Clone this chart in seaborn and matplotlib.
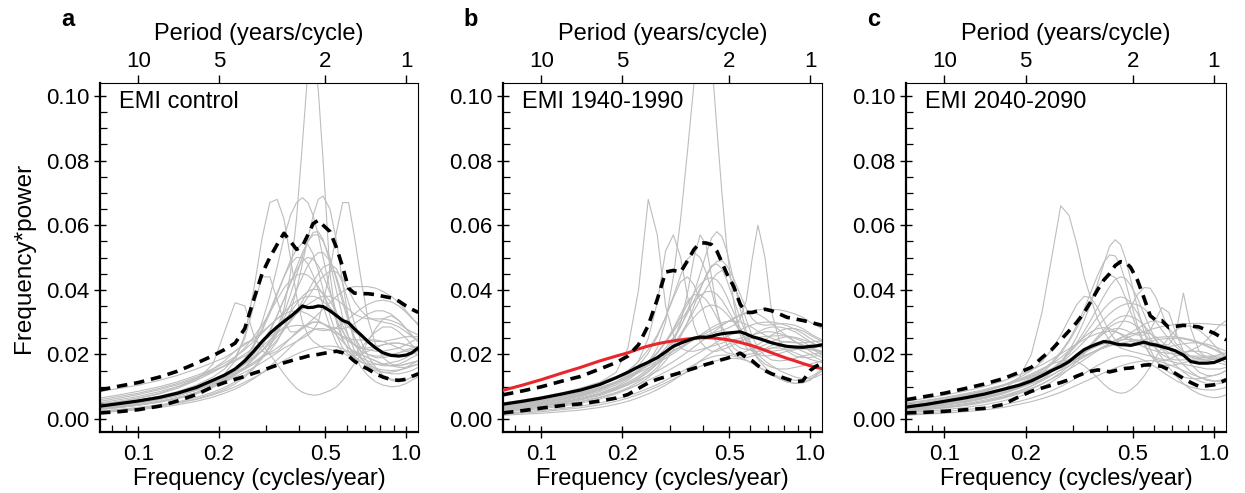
import numpy as np
import pandas as pd
import matplotlib
matplotlib.use("Agg")
import matplotlib.pyplot as plt
from matplotlib.ticker import FixedLocator, FixedFormatter, NullLocator, NullFormatter, MultipleLocator
import seaborn as sns

sns.set_theme(style="ticks", rc={"axes.edgecolor": "black", "text.color": "black",
                                 "axes.labelcolor": "black", "xtick.color": "black",
                                 "ytick.color": "black"})
plt.rcParams["font.family"] = ["Liberation Sans", "DejaVu Sans"]

# frequency grid (cycles/year) the curves were read at
freq = [0.072, 0.085, 0.10, 0.12, 0.14, 0.165,
        0.19, 0.21, 0.23, 0.25, 0.27, 0.29,
        0.31, 0.33, 0.35, 0.37, 0.39, 0.41,
        0.43, 0.45, 0.47, 0.49, 0.52, 0.55,
        0.58, 0.61, 0.64, 0.68, 0.72, 0.77,
        0.82, 0.88, 0.94, 1.00, 1.05, 1.11]

# all values below: frequency*power in units of 1e-3
# ---- panel a: EMI control ----
mean_a = [4.0, 4.8, 5.6, 6.7, 8.0, 9.8, 12.0, 13.6, 15.5, 18.0, 21.0, 24.0,
          26.5, 28.5, 30.2, 31.7, 33.3, 35.0, 34.5, 34.6, 35.0, 34.8, 33.5, 32.0,
          30.5, 29.8, 28.0, 26.0, 24.0, 22.0, 20.5, 19.7, 19.5, 19.8, 20.5, 22.0]
upper_a = [9.0, 10.2, 11.3, 13.0, 14.8, 17.3, 19.6, 21.5, 23.5, 28.0, 37.0, 45.0,
           50.0, 54.0, 57.5, 55.0, 52.5, 53.5, 57.0, 60.5, 61.5, 60.0, 58.0, 53.0,
           47.0, 40.5, 39.0, 38.8, 38.8, 38.5, 38.0, 37.5, 36.5, 35.0, 34.0, 33.0]
lower_a = [1.9, 2.3, 2.9, 4.0, 5.6, 7.6, 10.0, 11.3, 12.3, 13.2, 14.2, 15.0,
           15.9, 16.7, 17.4, 18.0, 18.6, 19.0, 19.5, 19.8, 20.0, 20.3, 20.7, 21.0,
           20.5, 19.5, 18.0, 16.5, 15.5, 14.0, 13.0, 12.2, 12.0, 12.3, 13.2, 14.0]
members_a = [
    [4, 4.8, 5.6, 6.8, 8, 9.8, 12, 13.5, 15, 17, 19, 21, 24, 28, 34, 45, 62, 85,
     108, 115, 102, 80, 45, 30, 24, 22, 21, 20, 19, 18, 17, 16.5, 16.5, 17, 17.5, 18],
    [3.5, 4.2, 5, 6, 7.2, 9, 11.5, 14, 18, 26, 40, 56, 67, 68, 62, 50, 38, 30,
     26, 24, 23, 22, 21.5, 21, 21, 21, 20.5, 20, 19, 18, 17, 16.5, 16, 16, 16.5, 17],
    [3, 3.6, 4.3, 5.3, 6.5, 8, 10, 12, 14.5, 18, 23, 30, 38, 47, 56, 63, 67, 68.5,
     67, 63, 57, 50, 40, 31, 25, 21, 19, 17.5, 17, 17, 17, 17.5, 18, 19, 20, 21],
    [3.8, 4.5, 5.3, 6.4, 7.6, 9.3, 11, 12.5, 14, 15.5, 17, 19, 21, 24, 28, 33, 40, 48,
     56, 63, 68, 69, 65, 55, 42, 31, 24, 19, 16.5, 15, 14.5, 14.5, 15, 16, 17, 18],
    [3.2, 3.8, 4.5, 5.5, 6.6, 8.2, 10, 11.5, 13, 14.5, 16, 17.5, 19, 20.5, 22, 23, 24, 25,
     26, 27.5, 30, 36, 46, 58, 67, 67, 57, 43, 31, 23, 19, 17, 16.5, 17, 17.5, 18],
    [4.5, 5.4, 6.4, 7.8, 9.5, 12, 17, 27, 36, 35, 26, 21, 20, 21, 23, 25, 27, 28.5,
     29.5, 30, 30, 29.5, 28.5, 27, 25.5, 24, 23, 22, 21.5, 21, 21, 21.5, 22, 23, 24, 25],
    [4, 4.8, 5.7, 7, 8.5, 10.5, 13, 15.5, 19, 25, 35, 44, 44, 37, 30, 27, 27, 28,
     29, 30, 30, 29.5, 28, 26, 24, 22, 20.5, 19, 18, 17, 16.5, 16.5, 17, 18, 19, 20],
    [4.5, 5.5, 6.5, 8, 10, 12.5, 15.5, 18, 21, 23.5, 24.5, 23, 20, 17, 14, 11.5, 9.5, 8.3,
     7.7, 7.4, 7.5, 8, 8.8, 10, 12, 14.5, 17, 20, 24, 28, 31, 32, 30.5, 28, 26, 24],
    [4, 4.7, 5.5, 6.6, 7.8, 9.5, 11.5, 13, 14.5, 16, 17.5, 19, 20.5, 22, 23.5, 25, 26.5, 28,
     29.5, 31, 32.5, 34, 36, 38, 39.5, 40.5, 41, 41, 41, 40.5, 39.5, 38, 36, 33.5, 31.5, 29],
    [3, 3.6, 4.3, 5.2, 6.3, 7.8, 9.8, 11.5, 13.5, 16, 19, 22.5, 27, 32, 37, 42, 46, 49,
     50, 49.5, 47.5, 44.5, 39, 33, 27.5, 23, 19.5, 16, 13.5, 11.5, 10.5, 10, 10.2, 11, 12, 13],
    [2.5, 3, 3.6, 4.4, 5.3, 6.7, 8.3, 9.8, 11.5, 13.5, 16, 19, 22.5, 26.5, 31, 35.5, 40, 44,
     47.5, 50, 51.5, 51.5, 49, 44, 37.5, 31, 25.5, 20.5, 17.5, 15.5, 14.5, 14, 14, 14.5, 15, 16],
    [5, 6, 7, 8.5, 10, 12, 14.5, 16.5, 19, 22, 25.5, 29, 33, 37, 40.5, 43, 44.5, 45,
     44.5, 43, 41, 38.5, 34.5, 30.5, 27, 24.5, 23, 22, 22, 22.5, 23, 23.5, 23.5, 23, 22.5, 22],
    [6, 7, 8, 9.5, 11, 13, 15, 16.5, 18, 19.5, 21, 22.5, 24.5, 26.5, 28.5, 30.5, 32.5, 34,
     35.5, 36.5, 37.5, 38, 38, 37, 35.5, 34, 32.5, 31.5, 31, 31, 31, 30.5, 29.5, 28, 27, 26],
    [2, 2.4, 2.9, 3.6, 4.4, 5.5, 6.8, 8, 9.3, 10.8, 12.5, 14.3, 16.3, 18.3, 20.3, 22.2, 24, 25.5,
     26.8, 27.6, 28, 28, 27.5, 26.5, 25.5, 25, 24.5, 24.5, 24.5, 24.5, 24, 23, 22, 21, 20.5, 20],
    [3.5, 4.2, 5, 6.1, 7.3, 9, 11, 12.7, 14.7, 17, 20, 23.5, 27.5, 32, 37, 42, 47, 51.5,
     55, 57, 57, 55, 50, 43, 36, 30, 25.5, 22, 20, 19, 19, 19.5, 20.5, 21.5, 22, 22.5],
    [3, 3.6, 4.3, 5.3, 6.5, 8.2, 10.5, 12.5, 15, 18.5, 23, 28, 33.5, 39, 44, 48, 50, 50,
     48, 44.5, 40, 35, 28.5, 23.5, 20.5, 19.5, 20, 22, 24.5, 27, 28.5, 28.5, 27, 25, 23, 21],
    [6.5, 7.5, 8.6, 10, 11.5, 13.5, 15.5, 17.3, 19.3, 21.5, 24, 26.5, 29, 31, 32.5, 33.3, 33.5, 33.2,
     32.5, 31.5, 30.5, 29.5, 28.5, 28, 28, 28.5, 29.5, 31, 32.5, 33.5, 33.5, 32.5, 30.5, 28, 26, 24],
    [3.5, 4.2, 5, 6.1, 7.3, 8.9, 10.7, 12.2, 13.8, 15.5, 17.5, 19.5, 22, 24.5, 27.5, 30.5, 33.5, 36.5,
     39.5, 42.5, 45, 47, 48, 46.5, 42, 36, 30, 24, 19.5, 16, 13.5, 12, 11.5, 12, 13, 14.5],
    [8.5, 9.5, 10.5, 12, 13.5, 15.5, 17.5, 19, 21, 23, 25, 27, 29, 31, 33, 35, 36.5, 37.5,
     38, 38, 37.5, 36.5, 34.5, 32.5, 30.5, 28.5, 27, 25.5, 24.5, 24, 24, 24.5, 25, 25.5, 25.5, 25.5],
    [3.2, 3.8, 4.5, 5.5, 6.6, 8.2, 10.2, 11.9, 13.8, 16, 18.5, 21.2, 24, 27, 30, 33, 35.7, 38,
     39.5, 40.2, 40, 39, 36.5, 33, 29, 25.5, 23, 21, 20, 19.5, 19.5, 20, 20.5, 21, 21.5, 22],
    [3.7, 4.4, 5.2, 6.3, 7.5, 9.2, 11.3, 13.2, 15.6, 18.7, 22.6, 27.3, 32.7, 38.5, 44, 49, 52.5, 54.5,
     54, 51, 46, 40, 32, 26, 22, 20, 19.5, 20, 21, 22, 23, 23.5, 23.5, 23, 22.5, 22],
    [2.2, 2.7, 3.2, 4, 4.9, 6.1, 7.5, 8.7, 10, 11.4, 12.8, 14.2, 15.6, 16.9, 18.1, 19.2, 20.1, 20.9,
     21.5, 22, 22.3, 22.5, 22.6, 22.4, 21.8, 20.8, 19.5, 17.8, 16.2, 14.5, 13.3, 12.4, 12, 12.2, 12.8, 13.5],
    [4.2, 5, 5.9, 7.1, 8.4, 10.2, 12.2, 13.8, 15.5, 17.3, 19.2, 21.2, 23.3, 25.5, 27.8, 30.2, 32.7, 35.2,
     37.7, 40.2, 42.4, 44.2, 45.8, 45.5, 43.5, 40, 36.5, 33.5, 31.5, 30.5, 30, 29.5, 28.5, 27, 25.5, 24],
    [5.5, 6.5, 7.6, 9.1, 10.6, 12.6, 14.7, 16.4, 18.2, 20.1, 22, 23.8, 25.5, 26.9, 28, 28.7, 29, 28.9,
     28.5, 28, 27.6, 27.4, 27.6, 28.4, 29.6, 31, 32.5, 34.2, 35.5, 36.5, 36.8, 36.3, 35, 33, 31.2, 29.5],
    [2.3, 2.8, 3.3, 4.1, 5, 6.2, 7.8, 9.2, 10.9, 13, 15.6, 18.8, 22.7, 27.3, 32.6, 38.5, 44.6, 50.3,
     55, 57.8, 58, 55.6, 48.5, 39.5, 31.5, 25.5, 21.5, 18.5, 16.8, 15.7, 15.2, 15, 15.2, 15.7, 16.3, 17],
]

# ---- panel b: EMI 1940-1990 ----
mean_b = [4.6, 5.5, 6.5, 7.8, 9.0, 10.7, 12.8, 14.5, 16.2, 17.6, 19.0, 20.8,
          22.5, 23.5, 24.3, 25.0, 25.4, 25.3, 25.6, 26.1, 26.4, 26.6, 26.8, 27.0,
          26.3, 25.5, 25.0, 24.3, 23.6, 23.0, 22.5, 22.3, 22.2, 22.5, 22.6, 23.0]
upper_b = [7.5, 8.7, 10.0, 11.8, 13.2, 15.5, 17.5, 19.5, 23.0, 29.0, 37.0, 45.5,
           46.0, 45.5, 49.0, 52.5, 54.5, 54.5, 54.0, 52.0, 48.5, 45.0, 41.0, 35.5,
           33.0, 33.0, 33.5, 34.0, 33.5, 32.5, 31.5, 31.0, 30.5, 30.0, 29.5, 29.0]
lower_b = [1.9, 2.6, 3.4, 4.2, 4.7, 5.6, 6.5, 7.6, 9.5, 11.2, 12.3, 13.1,
           13.7, 14.4, 15.1, 15.7, 16.3, 16.9, 17.4, 17.9, 18.4, 18.8, 19.5, 20.4,
           19.0, 18.0, 16.5, 15.0, 14.0, 13.2, 12.4, 11.6, 11.8, 15.0, 16.3, 17.3]
observed_b = [8.9, 10.5, 12.2, 14.3, 16.0, 18.0, 19.5, 20.5, 21.7, 22.6, 23.3, 23.8,
              24.2, 24.5, 24.8, 25.0, 25.1, 25.2, 25.1, 25.0, 24.8, 24.6, 24.2, 23.7,
              23.2, 22.7, 22.1, 21.3, 20.5, 19.6, 18.8, 18.0, 17.2, 16.5, 16.0, 15.6]
members_b = [
    [3, 3.6, 4.3, 5.3, 6.4, 8, 10, 12, 14.5, 17.5, 22, 30, 44, 62, 83, 104, 122, 128,
     112, 90, 70, 53, 36, 26, 22, 21, 21, 21.5, 22, 22, 21.5, 20.5, 19.5, 18.5, 18, 17.5],
    [4.5, 5.3, 6.2, 7.5, 9, 11.3, 14.5, 22, 40, 68, 57, 35, 26, 22, 21, 21, 21.5, 22,
     22.5, 23, 23.5, 24, 24.5, 25, 25.5, 26, 26.5, 27, 27, 26.5, 25.5, 24, 22.5, 21, 20, 19],
    [3.5, 4.2, 5, 6.1, 7.3, 9, 11.5, 14, 18, 25, 36, 52, 57, 50, 38, 29, 24, 22,
     21, 21, 21.5, 22, 23, 24, 25, 26, 27, 28, 28.5, 28.5, 28, 27, 25.5, 24, 23, 22],
    [2.5, 3, 3.6, 4.4, 5.3, 6.6, 8.2, 9.7, 11.5, 13.5, 16, 19.5, 24, 30, 39, 50, 57, 54,
     44, 34, 27, 23, 20, 19, 19, 19.5, 20, 21, 22, 22.5, 22.5, 22, 21, 20, 19, 18],
    [3, 3.6, 4.3, 5.2, 6.3, 7.8, 9.7, 11.4, 13.3, 15.5, 18, 21, 24.5, 28.5, 33.5, 39, 45, 51,
     56, 58, 56.5, 52, 43, 34, 27, 22, 19, 17, 16, 15.5, 15.5, 16, 16.5, 17, 17.5, 18],
    [4, 4.8, 5.6, 6.8, 8, 9.7, 11.6, 13.2, 14.8, 16.5, 18, 19.5, 21, 22.3, 23.5, 24.5, 25.3, 26,
     26.5, 27, 27.5, 28, 29, 31, 37, 50, 60, 50, 33, 24, 21, 19.5, 19, 19, 19.5, 20],
    [2.2, 2.7, 3.2, 4, 4.9, 6.2, 7.8, 9.2, 10.8, 12.8, 15.2, 18, 21.5, 25.5, 30, 35, 40, 44.5,
     47.5, 48, 46.5, 43, 37, 31, 26, 22.5, 20, 18, 16.5, 15, 14, 13, 12.5, 12.5, 13, 14],
    [3.8, 4.5, 5.3, 6.4, 7.6, 9.3, 11.3, 13, 15, 17.5, 20.5, 24, 28, 32.5, 36.5, 38.5, 38.5, 37,
     34.5, 31.5, 28.5, 26, 23.5, 22, 21.5, 21.5, 22, 23, 24, 25, 25.5, 25, 24, 22.5, 21.5, 20.5],
    [5, 5.9, 6.9, 8.2, 9.6, 11.4, 13.2, 14.6, 16, 17.4, 18.7, 20, 21.2, 22.4, 23.5, 24.6, 25.6, 26.6,
     27.5, 28.4, 29.2, 30, 31, 32, 32.8, 33.4, 33.8, 34, 34, 33.8, 33.3, 32.5, 31.5, 30, 29, 28],
    [2.8, 3.3, 4, 4.9, 5.9, 7.3, 9, 10.6, 12.4, 14.5, 17, 19.8, 22.8, 26, 29, 31.5, 33.5, 34.8,
     35.3, 35, 34, 32.5, 30, 27, 24, 21, 18.5, 16, 14, 12.5, 11.5, 11, 11.2, 12, 13.5, 15],
    [1.2, 1.5, 1.8, 2.3, 2.8, 3.6, 4.6, 5.5, 6.6, 7.8, 9.1, 10.5, 12, 13.5, 15, 16.5, 18, 19.3,
     20.5, 21.5, 22.3, 23, 23.8, 24.3, 24.7, 25, 25.3, 25.5, 25.7, 25.8, 25.7, 25.3, 24.6, 23.8, 23, 22],
    [4.2, 5, 5.8, 7, 8.2, 9.8, 11.5, 12.9, 14.3, 15.8, 17.3, 18.8, 20.3, 21.8, 23.3, 24.7, 26, 27.2,
     28.3, 29.2, 29.8, 30.2, 30.3, 30, 29.3, 28.3, 27.2, 26, 25, 24.2, 23.8, 23.6, 23.6, 23.8, 24, 24.2],
    [3.3, 3.9, 4.6, 5.6, 6.8, 8.5, 10.6, 12.5, 14.7, 17.3, 20.3, 23.7, 27.5, 31.5, 35.5, 39, 41.7, 43.3,
     43.8, 43, 41, 38, 33, 28, 24, 21.5, 20, 19.5, 19.7, 20.3, 21, 21.5, 21.8, 21.8, 21.5, 21],
    [4, 4.8, 5.7, 7, 8.4, 10.4, 12.8, 15, 17.8, 21.5, 26, 31.5, 37.5, 42.5, 44, 41.5, 36.5, 31,
     26.5, 23.5, 21.5, 20.5, 20, 20.3, 21, 22, 23, 24.5, 26, 27.3, 28, 28, 27.3, 26, 25, 24],
    [1.8, 2.2, 2.7, 3.3, 4, 5, 6.2, 7.2, 8.3, 9.5, 10.7, 12, 13.3, 14.5, 15.7, 16.8, 17.8, 18.6,
     19.2, 19.6, 19.8, 19.8, 19.5, 19, 18.2, 17.2, 16.2, 15, 14, 13, 12.3, 12, 12.2, 13, 14, 15.5],
    [3.6, 4.3, 5.1, 6.2, 7.4, 9.1, 11.1, 12.8, 14.7, 16.8, 19.2, 22, 25.2, 28.8, 32.7, 36.7, 40.5, 44,
     47, 48.8, 49, 47.5, 43.5, 38.5, 34, 31, 29.5, 29, 29.2, 29.5, 29.5, 29, 28, 26.5, 25.5, 24.5],
    [3.9, 4.6, 5.4, 6.5, 7.7, 9.4, 11.4, 13.2, 15.3, 17.8, 20.6, 23.7, 27, 30.4, 33.6, 36.3, 38.3, 39.4,
     39.5, 38.6, 36.8, 34.4, 30.7, 27.3, 24.6, 22.7, 21.6, 21, 21, 21.3, 21.6, 21.8, 21.8, 21.5, 21.2, 20.8],
    [2.6, 3.1, 3.7, 4.6, 5.5, 6.8, 8.2, 9.4, 10.7, 12, 13.3, 14.6, 15.9, 17.2, 18.4, 19.6, 20.7, 21.8,
     22.8, 23.8, 24.7, 25.5, 26.6, 27.6, 28.5, 29.2, 29.7, 30, 30, 29.6, 28.9, 27.8, 26.5, 25, 24, 23],
    [3.4, 4, 4.8, 5.9, 7.1, 8.9, 11.2, 13.5, 16.5, 20.4, 25.5, 31.5, 38, 44.5, 49.5, 51.5, 50, 45.5,
     39.5, 33.5, 28.5, 25, 22, 20.5, 20, 20.2, 20.8, 21.8, 22.8, 23.6, 24, 23.8, 23, 22, 21, 20],
    [1.5, 1.9, 2.3, 2.9, 3.5, 4.4, 5.5, 6.5, 7.6, 8.8, 10, 11.2, 12.4, 13.5, 14.6, 15.5, 16.3, 17,
     17.6, 18.1, 18.5, 18.7, 18.8, 18.6, 18.1, 17.3, 16.3, 15, 13.7, 12.4, 11.5, 11.1, 11.3, 12.2, 13.5, 15],
    [3.1, 3.7, 4.4, 5.3, 6.3, 7.7, 9.3, 10.6, 12, 13.4, 14.8, 16.3, 17.8, 19.3, 20.8, 22.3, 23.7, 25.1,
     26.4, 27.7, 28.9, 30, 31.3, 32.3, 32.9, 33, 32.5, 31.2, 29.5, 27.5, 25.7, 24, 22.7, 21.8, 21.3, 21],
    [2.9, 3.5, 4.1, 5, 6.1, 7.6, 9.4, 11, 12.8, 14.9, 17.3, 20, 23, 26.3, 29.8, 33.5, 37, 40.2,
     43, 45, 46, 45.5, 42, 36.5, 30.5, 25.5, 22, 19.5, 18.3, 18, 18.2, 18.8, 19.5, 20, 20.3, 20.5],
]

# ---- panel c: EMI 2040-2090 ----
mean_c = [3.7, 4.5, 5.5, 6.6, 7.7, 9.2, 10.5, 11.8, 13.4, 15.0, 16.3, 17.8,
          19.8, 21.5, 22.5, 23.3, 24.0, 23.8, 23.3, 23.0, 23.0, 22.8, 23.3, 23.8,
          23.2, 22.9, 22.4, 21.8, 21.1, 19.8, 17.8, 17.3, 17.3, 17.5, 18.2, 19.0]
upper_c = [6.0, 7.0, 8.0, 9.5, 10.8, 12.5, 14.5, 16.0, 19.0, 21.5, 24.5, 27.3,
           30.0, 33.0, 36.5, 40.0, 43.0, 45.0, 47.5, 48.7, 48.5, 47.0, 43.0, 37.5,
           32.0, 30.5, 30.5, 28.3, 28.7, 29.0, 28.8, 28.5, 27.5, 26.6, 25.6, 24.5]
lower_c = [1.9, 2.1, 2.4, 2.9, 3.3, 4.5, 7.0, 8.6, 9.6, 10.5, 11.3, 12.2,
           13.3, 14.2, 14.8, 15.2, 15.0, 14.6, 15.0, 15.4, 15.7, 15.8, 16.2, 16.7,
           16.8, 16.6, 16.3, 15.3, 14.1, 12.6, 11.3, 10.1, 10.3, 10.6, 11.2, 12.2]
members_c = [
    [3, 3.6, 4.3, 5.4, 6.8, 9, 13, 20, 33, 50, 66, 63, 54, 44, 37, 31, 27, 24.5,
     23, 22, 21.5, 21, 20.5, 20, 19.5, 19, 18.5, 18, 17.5, 17, 16.5, 16, 15.5, 15.5, 15.5, 16],
    [2.5, 3, 3.6, 4.4, 5.4, 6.8, 8.6, 10.2, 12.2, 14.6, 17.6, 21.2, 25.5, 30.5, 36, 42, 48, 53.5,
     55.5, 54, 49.5, 43.5, 34.5, 27, 21.5, 18, 16, 14.5, 13.5, 13, 12.5, 12.5, 13, 13.5, 14, 15],
    [3.5, 4.2, 5, 6.1, 7.3, 9, 11, 12.8, 15, 17.6, 20.8, 24.5, 29, 34, 39.5, 44.5, 48.5, 50.8,
     50.5, 47.5, 42.5, 36.5, 29, 23.5, 20, 18.5, 18, 18.5, 19.5, 20.5, 21, 21, 20.5, 19.5, 18.5, 17.5],
    [3.2, 3.8, 4.5, 5.5, 6.6, 8.1, 9.9, 11.4, 13, 14.7, 16.3, 17.8, 19.2, 20.5, 21.7, 22.8, 24, 25.3,
     27, 29, 31.5, 34.5, 38.5, 40.7, 40.5, 37.5, 33, 27.5, 23.5, 21, 19.5, 19, 19, 19.5, 20, 20.5],
    [3.8, 4.5, 5.3, 6.4, 7.6, 9.2, 11, 12.5, 14, 15.5, 17, 18.4, 19.7, 20.8, 21.8, 22.6, 23.3, 23.8,
     24.2, 24.5, 24.6, 24.6, 24.5, 24.2, 23.8, 23.4, 23, 23, 26, 39, 28, 21, 19, 18.5, 18.5, 19],
    [2.8, 3.3, 3.9, 4.8, 5.8, 7.2, 8.8, 10.2, 11.8, 13.5, 15.3, 17.2, 19.2, 21.2, 23.2, 25, 26.5, 27.5,
     28, 28, 27.5, 26.8, 26, 26, 27.5, 31, 34.5, 33, 27, 21, 17, 14.5, 13.5, 13.5, 14, 15],
    [4, 4.8, 5.7, 7, 8.4, 10.4, 12.8, 15, 17.8, 21.5, 26, 31, 35.5, 38, 37.5, 34.5, 30.5, 27,
     24.5, 23, 22.5, 22.5, 23, 23.5, 24, 24.5, 24.8, 25, 25, 24.8, 24.3, 23.5, 22.5, 21.5, 20.5, 19.5],
    [4.2, 5, 5.9, 7.1, 8.5, 10.3, 12.3, 14, 15.6, 17, 18, 18.3, 17.8, 16.5, 14.7, 12.7, 10.8, 9.3,
     8.4, 8, 8.2, 9, 10.8, 13.3, 16.2, 19.3, 22.2, 25.3, 27.5, 28.8, 28.8, 27.5, 25.5, 23, 21, 19],
    [5, 5.8, 6.7, 7.9, 9.1, 10.6, 12.1, 13.3, 14.5, 15.6, 16.7, 17.7, 18.7, 19.6, 20.5, 21.3, 22.1, 22.9,
     23.6, 24.3, 25, 25.6, 26.4, 27.1, 27.7, 28.2, 28.6, 29, 29.3, 29.5, 29.6, 29.6, 29.5, 29.3, 29.2, 29],
    [2, 2.4, 2.9, 3.6, 4.4, 5.6, 7, 8.3, 9.8, 11.5, 13.4, 15.5, 17.8, 20.2, 22.6, 24.9, 26.9, 28.5,
     29.6, 30.2, 30.3, 29.9, 28.6, 26.6, 24.2, 21.6, 19, 16, 13.4, 11, 9.2, 7.8, 7, 6.6, 6.8, 7.5],
    [3, 3.6, 4.3, 5.2, 6.3, 7.8, 9.6, 11.2, 13, 15.2, 17.7, 20.5, 23.7, 27.2, 30.8, 34.5, 38, 41,
     43.2, 44, 43.5, 41.5, 37.5, 32.5, 28, 24.5, 22, 20.5, 19.8, 19.5, 19.5, 19.5, 19.5, 19.5, 19.5, 19.5],
    [1.2, 1.5, 1.8, 2.3, 2.8, 3.6, 4.6, 5.4, 6.3, 7.3, 8.3, 9.4, 10.5, 11.5, 12.5, 13.4, 14.3, 15.1,
     15.8, 16.4, 16.9, 17.3, 17.7, 18, 18.1, 18, 17.6, 16.9, 16, 15, 14, 13, 12.3, 11.8, 11.5, 11.5],
    [4.5, 5.3, 6.2, 7.4, 8.7, 10.4, 12.2, 13.6, 15.2, 17, 19, 21.2, 23.4, 25.4, 27, 28, 28.3, 28,
     27.2, 26.2, 25.2, 24.3, 23.2, 22.3, 21.6, 21, 20.6, 20.3, 20.3, 20.6, 21.3, 22.5, 24.5, 27, 29, 30.5],
    [3.6, 4.3, 5, 6, 7.1, 8.6, 10.4, 11.9, 13.6, 15.4, 17.4, 19.5, 21.7, 24, 26.4, 28.7, 30.8, 32.6,
     34, 35, 35.6, 35.8, 35.4, 34.2, 32.3, 30, 27.6, 24.8, 22.5, 20.5, 19.2, 18.5, 18.3, 18.5, 19, 19.5],
    [5.5, 6.4, 7.4, 8.7, 10, 11.8, 13.7, 15.2, 16.8, 18.5, 20.2, 21.8, 23.3, 24.6, 25.7, 26.5, 27, 27.2,
     27, 26.5, 25.8, 25, 24, 23.2, 22.6, 22.3, 22.2, 22.4, 22.8, 23.3, 23.6, 23.6, 23.2, 22.5, 21.8, 21],
    [2.4, 2.9, 3.4, 4.2, 5.1, 6.4, 7.9, 9.3, 10.8, 12.5, 14.4, 16.4, 18.6, 20.9, 23.2, 25.5, 27.6, 29.4,
     30.8, 31.7, 32, 31.8, 30.8, 29, 26.7, 24.2, 21.7, 19, 16.7, 14.6, 13, 11.8, 11, 10.8, 11, 11.5],
    [3.3, 3.9, 4.6, 5.6, 6.7, 8.2, 10, 11.6, 13.4, 15.5, 17.8, 20.3, 23, 25.9, 28.8, 31.6, 34.1, 36,
     37.3, 37.8, 37.4, 36, 32.8, 28.8, 25, 22, 20, 18.8, 18.3, 18.3, 18.5, 18.8, 19, 19, 18.8, 18.5],
    [2.6, 3.1, 3.7, 4.5, 5.4, 6.7, 8.2, 9.5, 10.9, 12.4, 13.9, 15.4, 16.9, 18.4, 19.8, 21.1, 22.3, 23.4,
     24.4, 25.2, 25.8, 26.3, 26.7, 26.8, 26.4, 25.4, 24, 21.8, 19.4, 16.8, 14.7, 13, 12, 11.7, 12, 12.6],
    [3.1, 3.7, 4.4, 5.4, 6.5, 8.1, 10.1, 12, 14.3, 17, 20.3, 24, 28.2, 32.6, 37, 40.8, 43.5, 44.6,
     43.8, 41.2, 37.5, 33.3, 27.6, 23, 19.8, 17.8, 16.8, 16.5, 16.8, 17.4, 18, 18.3, 18.2, 17.8, 17.3, 16.8],
    [4.8, 5.6, 6.5, 7.6, 8.8, 10.3, 11.8, 13, 14.2, 15.4, 16.5, 17.6, 18.6, 19.6, 20.5, 21.3, 22, 22.6,
     23.1, 23.5, 23.8, 24, 24.3, 24.6, 24.9, 25.2, 25.4, 25.5, 25.4, 25.1, 24.6, 23.8, 22.8, 21.7, 20.9, 20],
    [1.6, 1.9, 2.3, 2.9, 3.5, 4.4, 5.5, 6.5, 7.6, 8.8, 10.1, 11.4, 12.8, 14.1, 15.4, 16.6, 17.6, 18.5,
     19.1, 19.5, 19.6, 19.5, 19, 18.2, 17.2, 16, 14.8, 13.3, 12, 10.8, 9.9, 9.3, 9, 9, 9.3, 9.8],
    [3.4, 4, 4.7, 5.6, 6.6, 8, 9.6, 10.9, 12.3, 13.7, 15.1, 16.5, 17.9, 19.2, 20.4, 21.5, 22.5, 23.4,
     24.2, 25, 25.8, 26.7, 28, 29.3, 30.2, 30.4, 29.8, 28, 25.8, 23.5, 21.6, 20, 19, 18.5, 18.5, 18.8],
]

freq_ticks = [0.1, 0.2, 0.5, 1.0]
freq_labels = ["0.1", "0.2", "0.5", "1.0"]
freq_minor = [0.08, 0.09, 0.3, 0.4, 0.6, 0.7, 0.8, 0.9]
period_labels = ["10", "5", "2", "1"]
power_ticks = [0.0, 0.02, 0.04, 0.06, 0.08, 0.10]

GRAY = "#bdbdbd"
RED = "#e8262b"
DASH = (0, (2.9, 1.9))
TICK_FS = 16
LABEL_FS = 17


def members_frame(members):
    frames = []
    for k, vals in enumerate(members):
        frames.append(pd.DataFrame({"freq": freq, "power": np.asarray(vals) * 1e-3, "member": k}))
    return pd.concat(frames, ignore_index=True)


panels = [
    dict(letter="a", label="EMI control", members=members_a, mean=mean_a, upper=upper_a,
         lower=lower_a, red=None, left=100, width=318),
    dict(letter="b", label="EMI 1940-1990", members=members_b, mean=mean_b, upper=upper_b,
         lower=lower_b, red=observed_b, left=503, width=319),
    dict(letter="c", label="EMI 2040-2090", members=members_c, mean=mean_c, upper=upper_c,
         lower=lower_c, red=None, left=906, width=320),
]

W, H = 1245, 493
fig = plt.figure(figsize=(W / 100, H / 100), dpi=100)

for i, p in enumerate(panels):
    ax = fig.add_axes([p["left"] / W, 61 / H, p["width"] / W, 349 / H])
    ax.set_xscale("log")

    sns.lineplot(data=members_frame(p["members"]), x="freq", y="power", units="member",
                 estimator=None, color=GRAY, linewidth=0.8, ax=ax, legend=False, zorder=1)
    if p["red"] is not None:
        sns.lineplot(x=freq, y=np.asarray(p["red"]) * 1e-3, estimator=None, color=RED,
                     linewidth=2.2, ax=ax, zorder=3)
    for band in (p["upper"], p["lower"]):
        sns.lineplot(x=freq, y=np.asarray(band) * 1e-3, estimator=None, color="black",
                     linewidth=2.6, linestyle=DASH, ax=ax, zorder=4)
    sns.lineplot(x=freq, y=np.asarray(p["mean"]) * 1e-3, estimator=None, color="black",
                 linewidth=2.3, ax=ax, zorder=5)

    ax.set_xlim(0.072, 1.108)
    ax.set_ylim(-0.004, 0.104)

    ax.xaxis.set_major_locator(FixedLocator(freq_ticks))
    ax.xaxis.set_major_formatter(FixedFormatter(freq_labels))
    ax.xaxis.set_minor_locator(FixedLocator(freq_minor))
    ax.xaxis.set_minor_formatter(NullFormatter())
    ax.yaxis.set_major_locator(FixedLocator(power_ticks))
    ax.yaxis.set_major_formatter(FixedFormatter(["%.2f" % v for v in power_ticks]))
    ax.yaxis.set_minor_locator(MultipleLocator(0.005))
    ax.tick_params(which="major", direction="inout", length=9, width=1.0, labelsize=TICK_FS)
    ax.tick_params(axis="x", which="major", pad=4)
    ax.tick_params(axis="y", which="major", pad=3)
    ax.tick_params(which="minor", direction="in", length=5, width=0.9)
    ax.tick_params(top=False, right=False, which="both")

    for side, lw in (("left", 1.6), ("bottom", 1.6), ("top", 0.8), ("right", 0.8)):
        ax.spines[side].set_linewidth(lw)
        ax.spines[side].set_color("black")

    ax.set_xlabel("Frequency (cycles/year)", fontsize=LABEL_FS, labelpad=2)
    if i == 0:
        ax.set_ylabel("Frequency*power", fontsize=17.5, labelpad=8)
    else:
        ax.set_ylabel("")

    ax.text(0.06, 0.945, p["label"], transform=ax.transAxes, fontsize=LABEL_FS,
            ha="left", va="center")

    top = ax.twiny()
    top.set_xscale("log")
    top.set_xlim(ax.get_xlim())
    top.xaxis.set_major_locator(FixedLocator(freq_ticks))
    top.xaxis.set_major_formatter(FixedFormatter(period_labels))
    top.xaxis.set_minor_locator(NullLocator())
    top.tick_params(which="major", direction="out", length=6, width=1.0,
                    labelsize=TICK_FS, pad=2)
    for s in top.spines.values():
        s.set_visible(False)
    top.set_xlabel("Period (years/cycle)", fontsize=LABEL_FS, labelpad=8)

    fig.text((p["left"] - 32) / W, 1 - 20 / H, p["letter"], fontsize=17,
             fontweight="bold", ha="center", va="center")

fig.savefig("out.png", dpi=100)
